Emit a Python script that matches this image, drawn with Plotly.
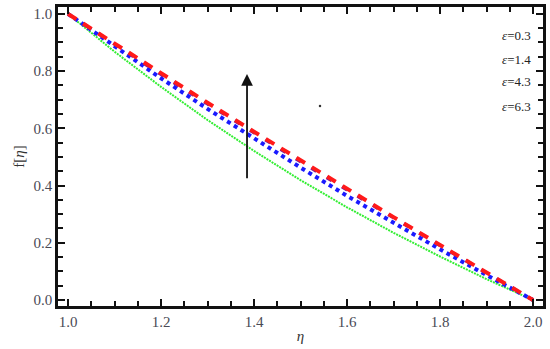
import plotly.graph_objects as go

# values at eta = 1.0, 1.1, ..., 2.0
eta = [1.0, 1.1, 1.2, 1.3, 1.4, 1.5, 1.6, 1.7, 1.8, 1.9, 2.0]
f_eps03 = [1.0, 0.868, 0.745, 0.629, 0.521, 0.419, 0.324, 0.235, 0.152, 0.073, 0.0]
f_eps14 = [1.0, 0.886, 0.775, 0.668, 0.564, 0.463, 0.364, 0.269, 0.177, 0.087, 0.0]
f_eps43 = [1.0, 0.8935, 0.7885, 0.6855, 0.584, 0.484, 0.385, 0.287, 0.1905, 0.0948, 0.0]
f_eps63 = [1.0, 0.8954, 0.7919, 0.6894, 0.588, 0.4875, 0.388, 0.2896, 0.1921, 0.0956, 0.0]

labels = ["<i>\u03b5</i>=0.3", "<i>\u03b5</i>=1.4", "<i>\u03b5</i>=4.3", "<i>\u03b5</i>=6.3"]
label_y = [0.925, 0.84, 0.765, 0.678]

arrow_x = 1.385
arrow_y0, arrow_y1 = 0.42, 0.79
dot_x, dot_y = 1.542, 0.678

fig = go.Figure()
fig.add_trace(go.Scatter(x=eta, y=f_eps03, mode="lines",
                         line=dict(color="#33ee33", width=2, dash="2px,1px")))
fig.add_trace(go.Scatter(x=eta, y=f_eps14, mode="lines",
                         line=dict(color="#1a1aff", width=4, dash="4px,4px")))
fig.add_trace(go.Scatter(x=eta, y=f_eps43, mode="lines",
                         line=dict(color="#7a1a9a", width=3.5, dash="6px,12px")))
fig.add_trace(go.Scatter(x=eta, y=f_eps63, mode="lines",
                         line=dict(color="#ff1a1a", width=4, dash="10px,8px")))
fig.add_trace(go.Scatter(x=[dot_x], y=[dot_y], mode="markers",
                         marker=dict(color="#333333", size=2.5)))

fig.add_annotation(x=arrow_x, y=arrow_y1, ax=arrow_x, ay=arrow_y0,
                   xref="x", yref="y", axref="x", ayref="y", text="",
                   showarrow=True, arrowhead=2, arrowsize=1.3, arrowwidth=1.8,
                   arrowcolor="#111111")

for t, yy in zip(labels, label_y):
    fig.add_annotation(x=2.0, y=yy, xref="x", yref="y", text=t,
                       showarrow=False, xanchor="right",
                       font=dict(family="Liberation Serif", size=13, color="#222222"))

axis_style = dict(showgrid=False, zeroline=False, showline=True, linewidth=2.5,
                  linecolor="#111111", mirror="ticks", ticks="inside",
                  ticklen=7, tickwidth=2, tickcolor="#111111",
                  tickmode="linear", dtick=0.2, tickformat=".1f",
                  tickfont=dict(family="Liberation Serif", size=15, color="#4a4a55"),
                  minor=dict(ticks="inside", ticklen=5, tickwidth=2,
                             tickcolor="#111111", dtick=0.05))

fig.update_xaxes(range=[0.9785, 2.0215], tick0=1.0,
                 title=dict(text="<i>\u03b7</i>", font=dict(family="Liberation Serif", size=15,
                                                            color="#333333"), standoff=2),
                 **axis_style)
fig.update_yaxes(range=[-0.021, 1.024], tick0=0.0,
                 title=dict(text="f[<i>\u03b7</i>]", font=dict(family="Liberation Serif", size=15,
                                                               color="#333333"), standoff=6),
                 **axis_style)

fig.update_layout(width=550, height=349, margin=dict(l=58, r=7, t=4, b=43),
                  paper_bgcolor="white", plot_bgcolor="white", showlegend=False)

fig.write_html("out.html", config={"displayModeBar": False},
               post_script="document.body.style.margin='0px';")
